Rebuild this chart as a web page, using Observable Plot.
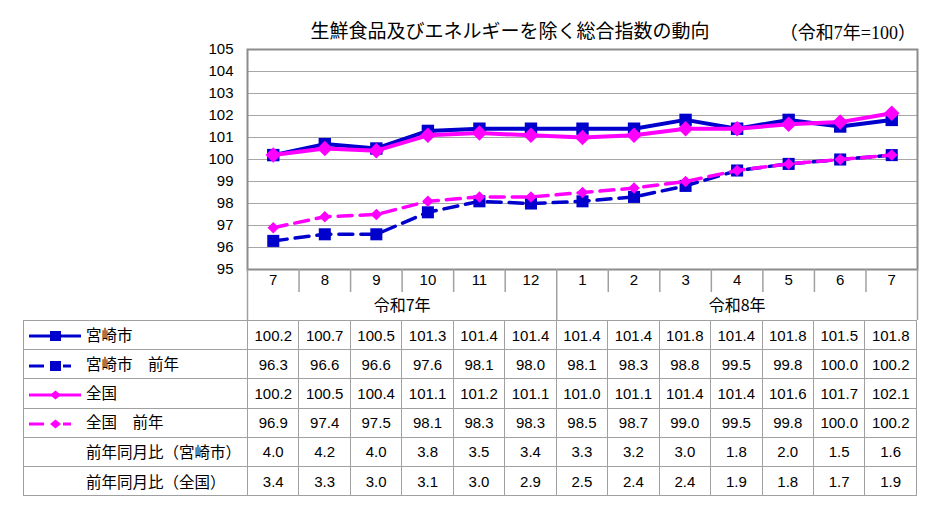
<!DOCTYPE html>
<html><head><meta charset="utf-8">
<script src="https://cdn.jsdelivr.net/npm/d3@7"></script>
<script src="https://cdn.jsdelivr.net/npm/@observablehq/plot@0.6"></script>
<style>
body{margin:0;background:#fff;}
#wrap{position:relative;width:932px;height:527px;font-family:'Liberation Sans','Noto Sans CJK JP',sans-serif;color:#000;}
#head{position:relative;height:40px;}
#title{position:absolute;left:510px;top:20px;transform:translateX(-50%);white-space:nowrap;font-family:'Noto Sans CJK JP',sans-serif;font-size:19px;line-height:19px;}
#unit{position:absolute;right:16px;top:24px;white-space:nowrap;font-family:'Liberation Serif','Noto Sans CJK JP',serif;font-size:18px;line-height:18px;}
#chart svg{display:block;}
table{margin-left:23px;width:894px;border-collapse:collapse;table-layout:fixed;}
td{border:1.5px solid #a0a0a0;height:28.2px;padding:0;text-align:center;font-size:15px;line-height:15px;white-space:nowrap;overflow:hidden;}
td.lab{text-align:left;padding-left:5px;font-family:'Noto Sans CJK JP',sans-serif;font-size:15.5px;}
td.lab svg{vertical-align:middle;margin-right:5px;}
.sp{display:inline-block;width:57px;}
</style>
</head><body>
<div id="wrap">
  <div id="head">
    <div id="title">生鮮食品及びエネルギーを除く総合指数の動向</div>
    <div id="unit">（令和7年=100）</div>
  </div>
  <div id="chart"></div>
  <div id="tbl"></div>
</div>
<script>
// ---- data ----
const months = ["7","8","9","10","11","12","1","2","3","4","5","6","7"];
const years  = ["令和7年","令和7年","令和7年","令和7年","令和7年","令和7年","令和8年","令和8年","令和8年","令和8年","令和8年","令和8年","令和8年"];
const miyazaki     = [100.2,100.7,100.5,101.3,101.4,101.4,101.4,101.4,101.8,101.4,101.8,101.5,101.8];
const miyazakiPrev = [96.3,96.6,96.6,97.6,98.1,98.0,98.1,98.3,98.8,99.5,99.8,100.0,100.2];
const zenkoku      = [100.2,100.5,100.4,101.1,101.2,101.1,101.0,101.1,101.4,101.4,101.6,101.7,102.1];
const zenkokuPrev  = [96.9,97.4,97.5,98.1,98.3,98.3,98.5,98.7,99.0,99.5,99.8,100.0,100.2];
const yoyMiyazaki  = [4.0,4.2,4.0,3.8,3.5,3.4,3.3,3.2,3.0,1.8,2.0,1.5,1.6];
const yoyZenkoku   = [3.4,3.3,3.0,3.1,3.0,2.9,2.5,2.4,2.4,1.9,1.8,1.7,1.9];
const yTicks = [95,96,97,98,99,100,101,102,103,104,105];
const seriesNames = ["宮崎市","宮崎市　前年","全国","全国　前年"];
const yoyNames = ["前年同月比（宮崎市）","前年同月比（全国）"];

const BLUE = "#0000cc", PINK = "#ff00ff";
const n = months.length;
const idx = d3.range(n);
const rows = vals => idx.map(i => ({i, v: vals[i]}));

// band boundaries and year groups
const yearBounds = d3.range(n - 1).filter(i => years[i] !== years[i + 1]).map(i => i + 0.5);
const monthBounds = d3.range(n - 1).filter(i => years[i] === years[i + 1]).map(i => i + 0.5);
const longBounds = [-0.5, ...yearBounds, n - 0.5];
const yearGroups = d3.groups(idx, i => years[i]);
const yearCenters = yearGroups.map(([y, is]) => d3.mean(is));
const yearLabel = new Map(yearGroups.map(([y, is]) => [d3.mean(is), y]));

const axisOpts = {label: null, stroke: "#a0a0a0", strokeWidth: 1.5, tickFormat: () => ""};

const chart = Plot.plot({
  width: 932, height: 280,
  marginTop: 9, marginBottom: 51, marginLeft: 247, marginRight: 15,
  x: {domain: [-0.5, n - 0.5], label: null},
  y: {domain: [95, 105], label: null},
  style: {fontFamily: "'Liberation Sans','Noto Sans CJK JP',sans-serif", fontSize: "15px", color: "#000", background: "#fff", overflow: "visible"},
  marks: [
    Plot.gridY(yTicks, {stroke: "#a6a6a6", strokeOpacity: 1, strokeWidth: 1.2}),
    Plot.frame({stroke: "#8c8c8c", strokeWidth: 2}),
    Plot.axisY(yTicks, {tickSize: 0, tickPadding: 14, fontSize: 15, label: null, fill: "#000"}),
    Plot.axisX(monthBounds, {...axisOpts, tickSize: 23}),
    Plot.axisX(longBounds, {...axisOpts, tickSize: 51}),
    Plot.axisX(idx, {tickSize: 0, tickPadding: 5, fontSize: 15, label: null, fill: "#000", tickFormat: i => months[i]}),
    Plot.axisX(yearCenters, {tickSize: 0, tickPadding: 30, fontSize: 16, label: null, fill: "#000", tickFormat: d => yearLabel.get(d), fontFamily: "'Noto Sans CJK JP',sans-serif"}),
    // previous-year dashed series
    Plot.line(rows(miyazakiPrev), {x: "i", y: "v", stroke: BLUE, strokeWidth: 3.5, strokeDasharray: "14,8"}),
    Plot.dot(rows(miyazakiPrev), {x: "i", y: "v", symbol: "square", r: 6.8, fill: BLUE}),
    Plot.line(rows(zenkokuPrev), {x: "i", y: "v", stroke: PINK, strokeWidth: 3.5, strokeDasharray: "14,8"}),
    Plot.dot(rows(zenkokuPrev), {x: "i", y: "v", symbol: "diamond2", r: 5.2, fill: PINK}),
    // current series
    Plot.line(rows(miyazaki), {x: "i", y: "v", stroke: BLUE, strokeWidth: 4}),
    Plot.dot(rows(miyazaki), {x: "i", y: "v", symbol: "square", r: 7, fill: BLUE}),
    Plot.line(rows(zenkoku), {x: "i", y: "v", stroke: PINK, strokeWidth: 4}),
    Plot.dot(rows(zenkoku), {x: "i", y: "v", symbol: "diamond2", r: 7, fill: PINK})
  ]
});
document.getElementById("chart").appendChild(chart);

// ---- data table (legend + values) ----
function swatch(color, dashed, shape) {
  const line = dashed
    ? `<line x1="0" x2="15" y1="7" y2="7" stroke="${color}" stroke-width="3"/><line x1="34" x2="42" y1="7" y2="7" stroke="${color}" stroke-width="3"/>`
    : `<line x1="0" x2="52" y1="7" y2="7" stroke="${color}" stroke-width="3"/>`;
  const mk = shape === "square"
    ? `<rect x="21" y="2" width="11" height="10" fill="${color}"/>`
    : `<polygon points="26.5,2.5 32,7 26.5,11.5 21,7" fill="${color}"/>`;
  return `<svg width="52" height="14">${line}${mk}</svg>`;
}
const tableRows = [
  {name: seriesNames[0], vals: miyazaki, sw: swatch(BLUE, false, "square")},
  {name: seriesNames[1], vals: miyazakiPrev, sw: swatch(BLUE, true, "square")},
  {name: seriesNames[2], vals: zenkoku, sw: swatch(PINK, false, "diamond")},
  {name: seriesNames[3], vals: zenkokuPrev, sw: swatch(PINK, true, "diamond")},
  {name: yoyNames[0], vals: yoyMiyazaki, sw: `<span class="sp"></span>`},
  {name: yoyNames[1], vals: yoyZenkoku, sw: `<span class="sp"></span>`}
];
let html = `<table><colgroup><col style="width:224px">${idx.map(() => "<col>").join("")}</colgroup>`;
for (const r of tableRows) {
  html += `<tr><td class="lab">${r.sw}${r.name}</td>${r.vals.map(v => `<td>${v.toFixed(1)}</td>`).join("")}</tr>`;
}
html += "</table>";
document.getElementById("tbl").innerHTML = html;
</script>
</body></html>
